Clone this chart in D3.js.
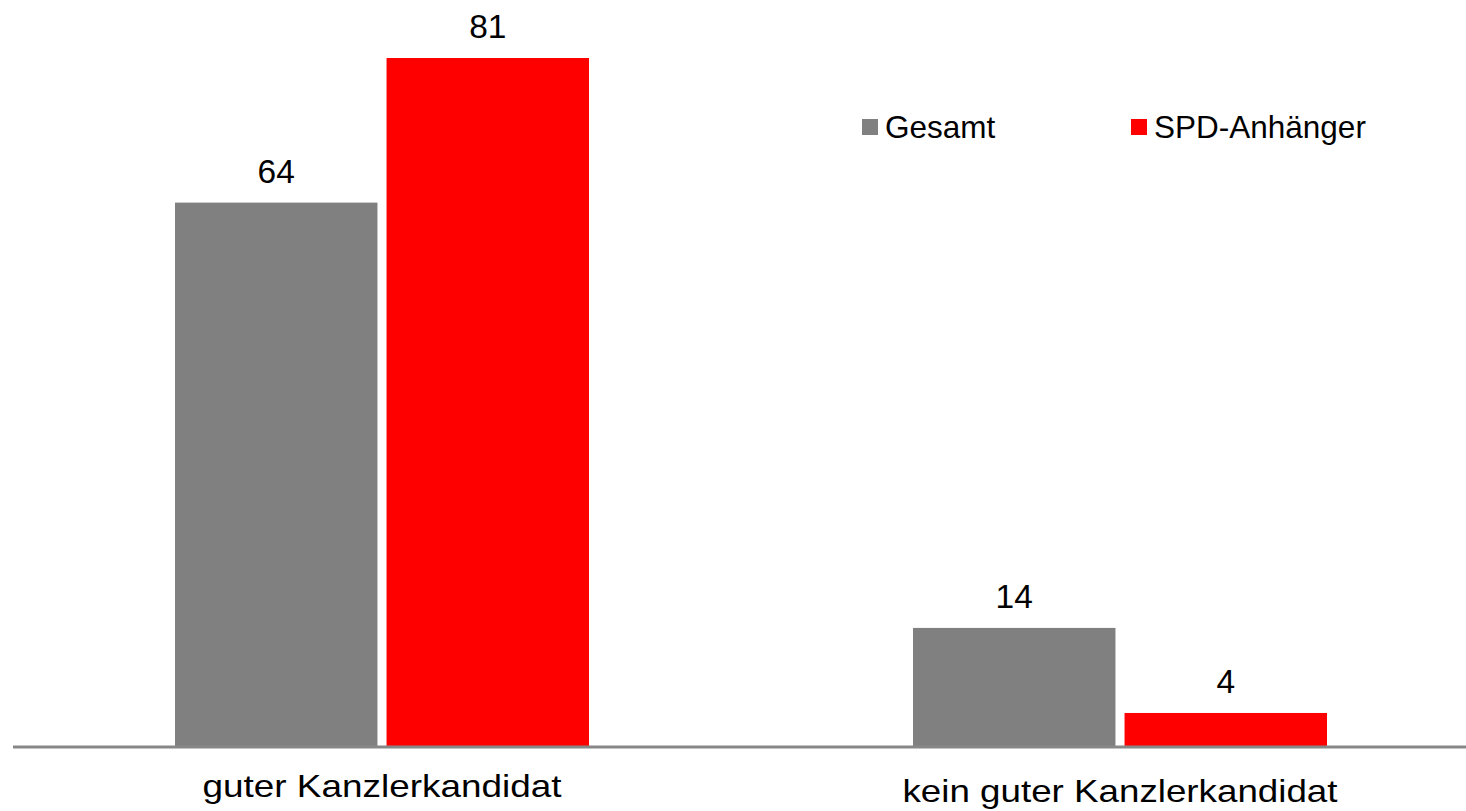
<!DOCTYPE html>
<html>
<head>
<meta charset="utf-8">
<script src="https://cdn.jsdelivr.net/npm/d3@7"></script>
<style>
body { margin: 0; background: #fff; }
text { font-family: 'Liberation Sans', Arial, sans-serif; fill: #000; }
</style>
</head>
<body>
<svg width="1466" height="811"></svg>
<script>
// data
var categories = ['guter Kanzlerkandidat', 'kein guter Kanzlerkandidat'];
var series = ['Gesamt', 'SPD-Anhänger'];
var gesamt = [64, 14];
var spd = [81, 4];
var colors = ['#808080', '#ff0000'];

var values = [gesamt, spd];
var rows = categories.map(function(c, i) {
  return { cat: c, vals: series.map(function(s, j) { return { key: s, value: values[j][i] }; }) };
});

var svg = d3.select('svg');
var baseY = 747;

var x0 = d3.scaleBand().domain(categories).range([13, 1489]).padding(0);
var bw = x0.bandwidth();
var x1 = d3.scaleBand().domain(series)
  .range([bw / 2 - 207, bw / 2 + 207])
  .paddingInner(0.043);
var y = d3.scaleLinear().domain([0, 81]).range([baseY, 58]);
var color = d3.scaleOrdinal().domain(series).range(colors);

var groups = svg.selectAll('.grp')
  .data(rows)
  .enter()
  .append('g')
  .attr('class', 'grp')
  .attr('transform', function(d) { return 'translate(' + x0(d.cat) + ',0)'; });

groups.selectAll('rect')
  .data(function(d) { return d.vals; })
  .enter()
  .append('rect')
  .attr('x', function(d) { return x1(d.key); })
  .attr('width', x1.bandwidth())
  .attr('y', function(d) { return y(d.value); })
  .attr('height', function(d) { return baseY - y(d.value); })
  .attr('fill', function(d) { return color(d.key); });

groups.selectAll('.val')
  .data(function(d) { return d.vals; })
  .enter()
  .append('text')
  .attr('class', 'val')
  .attr('x', function(d) { return x1(d.key) + x1.bandwidth() / 2; })
  .attr('y', function(d) { return y(d.value) - 20; })
  .attr('text-anchor', 'middle')
  .style('font-size', '33.5px')
  .text(function(d) { return d.value; });

// axis line
svg.append('line')
  .attr('x1', 13).attr('x2', 1466)
  .attr('y1', baseY).attr('y2', baseY)
  .style('stroke', '#878787')
  .style('stroke-width', 3);

// category labels: the original glyphs are drawn wider than the font's natural width
var catWidth = [359, 435];
svg.selectAll('.cat')
  .data(categories)
  .enter()
  .append('text')
  .attr('class', 'cat')
  .attr('x', function(d) { return x0(d) + bw / 2; })
  .attr('y', function(d, i) { return i === 0 ? 797 : 802; })
  .attr('text-anchor', 'middle')
  .attr('textLength', function(d, i) { return catWidth[i]; })
  .attr('lengthAdjust', 'spacingAndGlyphs')
  .style('font-size', '32px')
  .text(function(d) { return d; });

// legend
var legX = [862, 1131];
var leg = svg.selectAll('.leg')
  .data(series)
  .enter()
  .append('g')
  .attr('class', 'leg')
  .attr('transform', function(d, i) { return 'translate(' + legX[i] + ',119)'; });

leg.append('rect')
  .attr('width', 16).attr('height', 16)
  .attr('fill', function(d) { return color(d); });

leg.append('text')
  .attr('x', 23)
  .attr('y', 19)
  .style('font-size', '31.5px')
  .text(function(d) { return d; });
</script>
</body>
</html>
